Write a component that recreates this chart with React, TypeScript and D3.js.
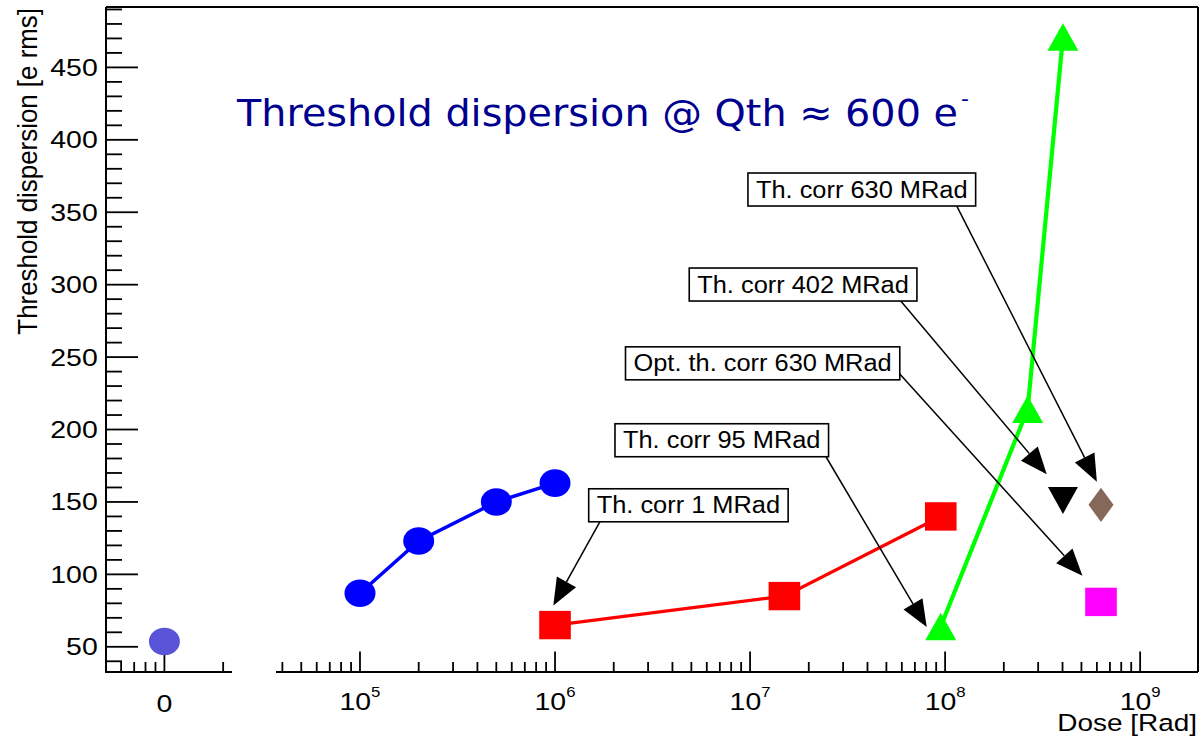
import React from "react";
import * as d3 from "d3";

// ---- data -------------------------------------------------------------
// Unirradiated chip, drawn on the short "0" axis segment
const zeroDoseValues = [53.7];

// Dose [Rad] / threshold dispersion [e rms]
const blueDoses = [1e5, 2e5, 5e5, 1e6];
const blueValues = [87, 123, 150, 163];

const redDoses = [1e6, 1.5e7, 9.5e7];
const redValues = [65, 85, 140];

const greenDoses = [9.5e7, 2.65e8, 4.02e8];
const greenValues = [64, 214, 471];

const blackDoses = [4.02e8];
const blackValues = [151];

const brownDoses = [6.3e8];
const brownValues = [148];

const magentaDoses = [6.3e8];
const magentaValues = [81];

// axis ticks
const yMajorTicks = [50, 100, 150, 200, 250, 300, 350, 400, 450];
const yMinorTicks = d3.range(40, 500, 10).filter((v) => v % 50 !== 0);
const zeroPanelTicks = [6, 7, 8, 9, 10, 20];
const zeroLabelAt = 10;
const decades = [4, 5, 6, 7, 8, 9];

// annotation boxes: label, box centre, arrow start and arrow tip (dose, value)
const annotationTexts = [
  "Th. corr 630 MRad",
  "Th. corr 402 MRad",
  "Opt. th. corr 630 MRad",
  "Th. corr 95 MRad",
  "Th. corr 1 MRad",
];
const annotationBoxes: [number, number][] = [
  [3.74e7, 365.7],
  [1.87e7, 300.1],
  [1.16e7, 245.7],
  [7.16e6, 192.6],
  [4.83e6, 147.7],
];
const annotationFrom: [number, number][] = [
  [1.15e8, 354.1],
  [5.94e7, 288.6],
  [5.81e7, 238.8],
  [2.45e7, 181.2],
  [1.7e6, 136.4],
];
const annotationTo: [number, number][] = [
  [6.0e8, 164],
  [3.32e8, 169.1],
  [5.06e8, 99],
  [8.05e7, 63.6],
  [9.8e5, 78.5],
];

// ---- layout -----------------------------------------------------------
const W = 1200;
const H = 738;
const left = 106;
const right = 1198;
const top = 7;
const bottom = 672;
const zeroAxisEnd = 232;
const logAxisStart = 276;

const yDomain = [32.6, 491.7];
const doseDomain = [3.71e4, 1.98e9];
const zeroPanelDomain = [5.02, 22.2];

const y = d3.scaleLinear().domain(yDomain).range([bottom, top]);
const x = d3.scaleLog().domain(doseDomain).range([logAxisStart, right]);
const xZero = d3.scaleLog().domain(zeroPanelDomain).range([left, zeroAxisEnd]);

const FONT = "'Liberation Sans', Arial, Helvetica, sans-serif";
const STRETCH = 1.2;
const BOX_FONT_SIZE = 23.3;
const BOX_STRETCH = 1.09;

let measureCtx: CanvasRenderingContext2D | null = null;
function textWidth(s: string, size: number) {
  if (!measureCtx) {
    const c = document.createElement("canvas");
    measureCtx = c.getContext("2d");
  }
  if (!measureCtx) return s.length * size * 0.5;
  measureCtx.font = `${size}px "Liberation Sans"`;
  return measureCtx.measureText(s).width;
}

type MarkerKind = "circle" | "square" | "triUp" | "triDown" | "diamond";

function Marker({ kind, cx, cy, fill }: { kind: MarkerKind; cx: number; cy: number; fill: string }) {
  if (kind === "circle") return <ellipse cx={cx} cy={cy} rx={15.5} ry={13.8} fill={fill} />;
  if (kind === "square")
    return <rect x={cx - 15.8} y={cy - 14.2} width={31.6} height={28.4} fill={fill} />;
  if (kind === "triUp") {
    const w = 15.5, h = 13.8;
    return <polygon points={`${cx},${cy - h} ${cx - w},${cy + h} ${cx + w},${cy + h}`} fill={fill} />;
  }
  if (kind === "triDown") {
    const w = 15, h = 13.4;
    return <polygon points={`${cx},${cy + h} ${cx - w},${cy - h} ${cx + w},${cy - h}`} fill={fill} />;
  }
  const w = 12.5, h = 17.2;
  return (
    <polygon
      points={`${cx},${cy - h} ${cx + w},${cy} ${cx},${cy + h} ${cx - w},${cy}`}
      fill={fill}
    />
  );
}

function Series({
  doses,
  values,
  color,
  kind,
  lineWidth,
}: {
  doses: number[];
  values: number[];
  color: string;
  kind: MarkerKind;
  lineWidth?: number;
}) {
  const pts: [number, number][] = doses.map((d, i) => [x(d), y(values[i])]);
  const line = d3.line();
  return (
    <g>
      {lineWidth && pts.length > 1 ? (
        <path d={line(pts) || ""} fill="none" stroke={color} strokeWidth={lineWidth} />
      ) : null}
      {pts.map((p, i) => (
        <Marker key={i} kind={kind} cx={p[0]} cy={p[1]} fill={color} />
      ))}
    </g>
  );
}

function Arrow({ from, to }: { from: [number, number]; to: [number, number] }) {
  const x1 = x(from[0]), y1 = y(from[1]);
  const x2 = x(to[0]), y2 = y(to[1]);
  const dx = x2 - x1, dy = y2 - y1;
  const len = Math.hypot(dx, dy);
  const ux = dx / len, uy = dy / len;
  const L = 27, hw = 11;
  const bx = x2 - ux * L, by = y2 - uy * L;
  const nx = -uy, ny = ux;
  return (
    <g>
      <line x1={x1} y1={y1} x2={bx} y2={by} stroke="#000" strokeWidth={1.5} />
      <polygon
        points={`${x2},${y2} ${bx + nx * hw},${by + ny * hw} ${bx - nx * hw},${by - ny * hw}`}
        fill="#000"
      />
    </g>
  );
}

function LabelBox({ text, at }: { text: string; at: [number, number] }) {
  const cx = x(at[0]);
  const cy = y(at[1]);
  const tw = textWidth(text, BOX_FONT_SIZE) * BOX_STRETCH;
  const w = tw + 16;
  const h = 33;
  return (
    <g>
      <rect x={cx - w / 2} y={cy - h / 2} width={w} height={h} fill="#fff" stroke="#000" strokeWidth={1.6} />
      <text
        transform={`translate(${cx - tw / 2},${cy + 8}) scale(${BOX_STRETCH},1)`}
        fontFamily={FONT}
        fontSize={BOX_FONT_SIZE}
        fill="#000"
      >
        {text}
      </text>
    </g>
  );
}

export default function App() {
  const logTicks: { v: number; major: boolean }[] = [];
  decades.forEach((k) => {
    for (let m = 1; m <= 9; m++) {
      const v = m * Math.pow(10, k);
      if (v >= doseDomain[0] && v <= doseDomain[1]) logTicks.push({ v, major: m === 1 });
    }
  });

  return (
    <svg
      width={W}
      height={H}
      style={{ position: "absolute", left: 0, top: 0, background: "#fff" }}
      xmlns="http://www.w3.org/2000/svg"
    >
      <rect x={0} y={0} width={W} height={H} fill="#fff" />

      {/* frame */}
      <line x1={left} y1={top} x2={right} y2={top} stroke="#000" strokeWidth={2} />
      <line x1={right} y1={top} x2={right} y2={bottom} stroke="#000" strokeWidth={2} />
      <line x1={left} y1={top} x2={left} y2={bottom + 1} stroke="#000" strokeWidth={2} />

      {/* y axis ticks */}
      {yMinorTicks.map((v) => (
        <line key={"ym" + v} x1={left} x2={left + 16} y1={y(v)} y2={y(v)} stroke="#000" strokeWidth={1.8} />
      ))}
      {yMajorTicks.map((v) => (
        <g key={"yM" + v}>
          <line x1={left} x2={left + 32} y1={y(v)} y2={y(v)} stroke="#000" strokeWidth={1.8} />
          <text
            transform={`translate(${left - 8.3},${y(v) + 8.5}) scale(${STRETCH},1)`}
            textAnchor="end"
            fontFamily={FONT}
            fontSize={23.7}
          >
            {v}
          </text>
        </g>
      ))}

      {/* y axis title */}
      <text
        transform={`translate(37,${top + 1}) scale(${STRETCH * 0.88},1) rotate(-90)`}
        textAnchor="end"
        fontFamily={FONT}
        fontSize={25.9}
      >
        Threshold dispersion [e rms]
      </text>

      {/* bottom axis: "0" segment */}
      <line x1={left} y1={bottom} x2={zeroAxisEnd} y2={bottom} stroke="#000" strokeWidth={2} />
      {zeroPanelTicks.map((v) => (
        <line
          key={"zt" + v}
          x1={xZero(v)}
          x2={xZero(v)}
          y1={bottom}
          y2={bottom - (v === zeroLabelAt ? 17 : 10)}
          stroke="#000"
          strokeWidth={1.8}
        />
      ))}
      <text
        transform={`translate(${xZero(zeroLabelAt)},712) scale(${STRETCH},1)`}
        textAnchor="middle"
        fontFamily={FONT}
        fontSize={23.7}
      >
        0
      </text>

      {/* bottom axis: logarithmic dose segment */}
      <line x1={logAxisStart} y1={bottom} x2={right} y2={bottom} stroke="#000" strokeWidth={2} />
      {logTicks.map((t) => (
        <line
          key={"xt" + t.v}
          x1={x(t.v)}
          x2={x(t.v)}
          y1={bottom}
          y2={bottom - (t.major ? 20.5 : 10)}
          stroke="#000"
          strokeWidth={1.8}
        />
      ))}
      {logTicks
        .filter((t) => t.major)
        .map((t) => (
          <text
            key={"xl" + t.v}
            transform={`translate(${x(t.v)},710) scale(${STRETCH},1)`}
            textAnchor="middle"
            fontFamily={FONT}
            fontSize={23.7}
          >
            10
            <tspan dy={-13} fontSize={14}>
              {Math.round(Math.log10(t.v))}
            </tspan>
          </text>
        ))}
      <text
        transform={`translate(${right - 1},731) scale(${STRETCH},1)`}
        textAnchor="end"
        fontFamily={FONT}
        fontSize={23.3}
      >
        Dose [Rad]
      </text>

      {/* title */}
      <text
        x={237}
        y={126}
        fontFamily="'Comic Sans MS', 'DejaVu Sans', sans-serif"
        fontSize={38}
        fill="#00008f"
        textLength={721}
        lengthAdjust="spacingAndGlyphs"
      >
        Threshold dispersion @ Qth ≈ 600 e
      </text>
      <text x={961} y={106} fontFamily="'DejaVu Sans', sans-serif" fontSize={22} fill="#00008f">
        -
      </text>

      {/* series */}
      {zeroDoseValues.map((v, i) => (
        <Marker key={"z" + i} kind="circle" cx={xZero(zeroLabelAt)} cy={y(v)} fill="#5954d8" />
      ))}
      <Series doses={blueDoses} values={blueValues} color="#0000ff" kind="circle" lineWidth={3.5} />
      <Series doses={redDoses} values={redValues} color="#ff0000" kind="square" lineWidth={3.3} />
      <Series doses={greenDoses} values={greenValues} color="#00ff00" kind="triUp" lineWidth={4.2} />
      <Series doses={blackDoses} values={blackValues} color="#000000" kind="triDown" />
      <Series doses={brownDoses} values={brownValues} color="#86685a" kind="diamond" />
      <Series doses={magentaDoses} values={magentaValues} color="#ff00ff" kind="square" />

      {/* annotations */}
      {annotationTexts.map((t, i) => (
        <g key={"a" + i}>
          <Arrow from={annotationFrom[i]} to={annotationTo[i]} />
          <LabelBox text={t} at={annotationBoxes[i]} />
        </g>
      ))}
    </svg>
  );
}
